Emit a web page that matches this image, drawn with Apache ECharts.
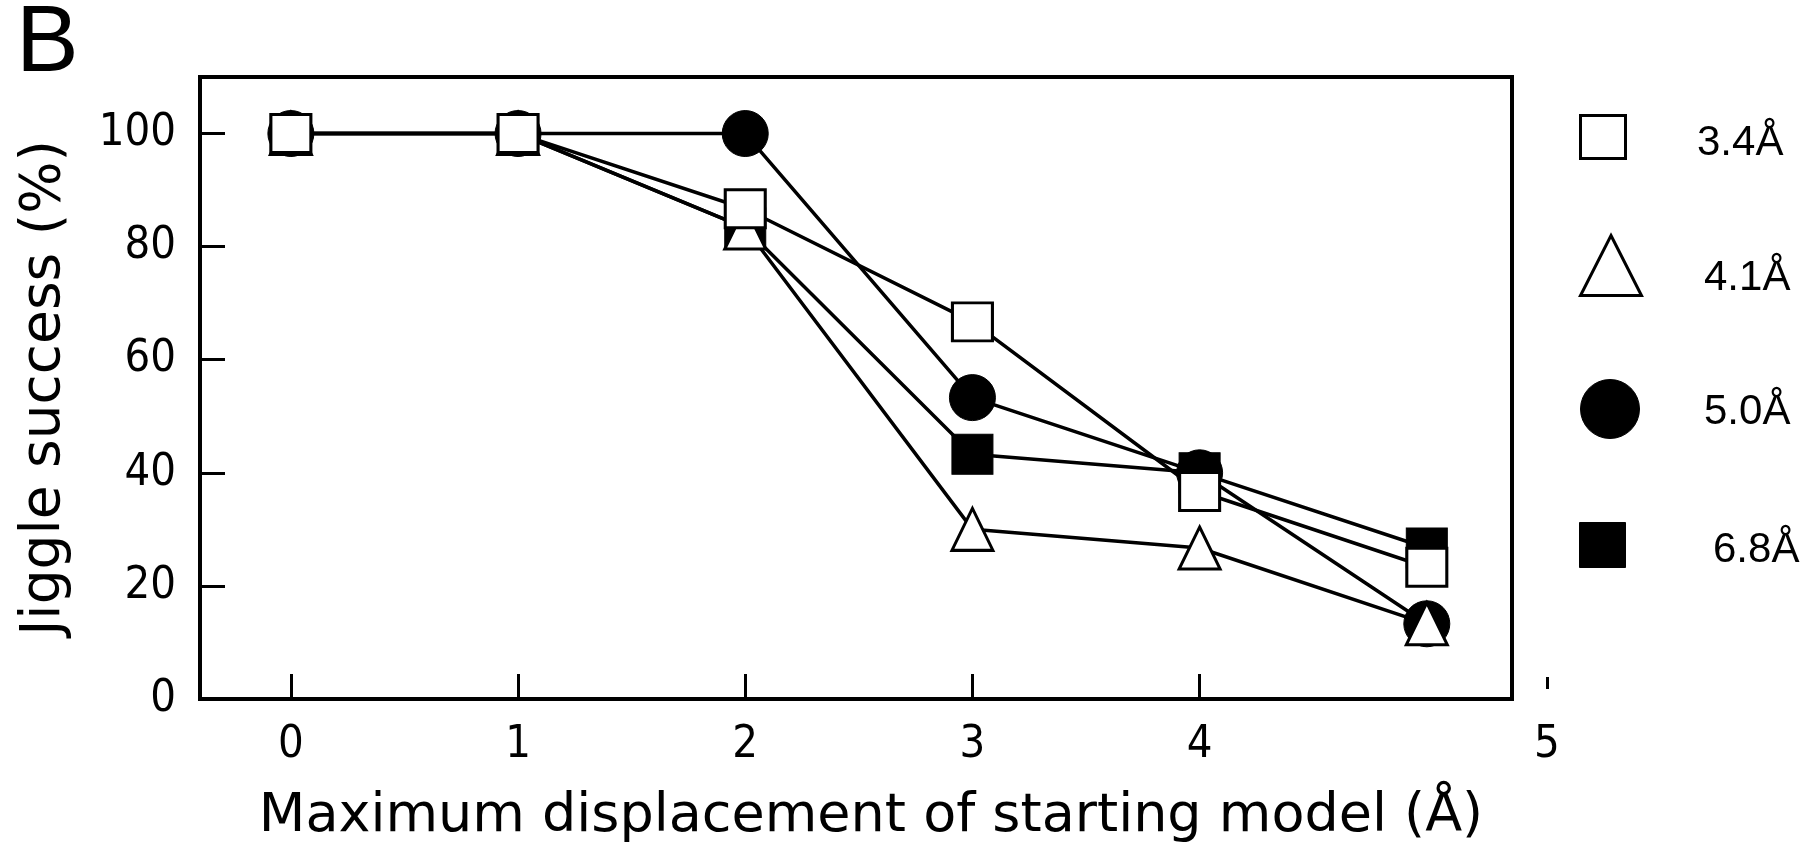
<!DOCTYPE html>
<html><head><meta charset="utf-8">
<script src="https://cdn.jsdelivr.net/npm/echarts@6/dist/echarts.min.js"></script>
<style>html,body{margin:0;padding:0;background:#fff}#c{width:1806px;height:842px}</style>
</head><body><div id="c"></div><script>
// ---- data ----
const xValues = [0, 1, 2, 3, 4, 5];
const xTickLabels = [0, 1, 2, 3, 4];
const extraXLabel = [5];
const yTickLabels = [0, 20, 40, 60, 80, 100];
const seriesNames = ['3.4Å', '4.1Å', '5.0Å', '6.8Å'];
const s34 = [100, 100, 86.7, 66.7, 36.7, 23.3];
const s41 = [100, 100, 83.3, 30.0, 26.7, 13.3];
const s50 = [100, 100, 100, 53.3, 40.0, 13.3];
const s68 = [100, 100, 83.3, 43.3, 40.0, 26.7];
const xTitle = 'Maximum displacement of starting model (Å)';
const yTitle = 'Jiggle success (%)';
const panelLabel = 'B';

const pairs = (ys) => xValues.map((x, i) => [x, ys[i]]);
const AX_FONT = 'DejaVu Sans Condensed';
const TITLE_FONT = 'DejaVu Sans';
const LEG_FONT = 'Liberation Sans';

function lineSeries(name, ys, symbol, size, fill) {
  return {
    name, type: 'line', data: pairs(ys), symbol, symbolSize: size,
    xAxisIndex: 0, yAxisIndex: 0,
    lineStyle: { color: '#000', width: 3.5 },
    itemStyle: { color: fill, borderColor: '#000', borderWidth: fill === '#000' ? 1 : 3, opacity: 1 },
    emphasis: { disabled: true }, z: 2
  };
}

// legend symbol only
function legendIcon(name, icon, w, h, left, top, fill) {
  return {
    data: [name], left, top, orient: 'vertical', padding: 0, icon,
    itemWidth: w, itemHeight: h, selectedMode: false,
    formatter: () => '',
    itemStyle: { color: fill, borderColor: '#000', borderWidth: fill === '#000' ? 1 : 3 },
    textStyle: { fontSize: 1 }
  };
}
// legend label only
function legendText(name, left, top) {
  return {
    data: [name], left, top, orient: 'vertical', padding: 0, icon: 'rect',
    itemWidth: 0, itemHeight: 0, selectedMode: false,
    itemStyle: { color: 'rgba(0,0,0,0)', borderWidth: 0 },
    textStyle: { fontFamily: LEG_FONT, fontSize: 42, color: '#000' }
  };
}

const chart = echarts.init(document.getElementById('c'), null, { renderer: 'canvas' });
chart.setOption({
  animation: false,
  backgroundColor: '#fff',
  title: { text: panelLabel, left: 16, top: -2, padding: 0,
    textStyle: { fontFamily: LEG_FONT, fontSize: 94, fontWeight: 'normal', color: '#000' } },
  legend: [
    legendIcon(seriesNames[0], 'rect', 45, 43, 1579, 114, '#fff'),
    legendIcon(seriesNames[1], 'triangle', 61, 60, 1579, 234, '#fff'),
    legendIcon(seriesNames[2], 'circle', 60, 59, 1580, 379, '#000'),
    legendIcon(seriesNames[3], 'rect', 46, 45, 1579, 522, '#000'),
    legendText(seriesNames[0], 1692, 122),
    legendText(seriesNames[1], 1699, 257),
    legendText(seriesNames[2], 1699, 391),
    legendText(seriesNames[3], 1708, 529)
  ],
  grid: [
    { left: 200, right: 294, top: 77, bottom: 143, show: true, borderColor: '#000', borderWidth: 4,
      containLabel: false, outerBoundsMode: 'none' },
    { left: 291, right: 259, top: 77, bottom: 143, show: false, containLabel: false, outerBoundsMode: 'none' }
  ],
  xAxis: [
    { gridIndex: 0, type: 'value', min: -0.4, max: 5.375,
      axisLine: { show: true, onZero: false, lineStyle: { color: '#000', width: 4 } },
      axisTick: { show: true, inside: true, length: 25, lineStyle: { color: '#000', width: 3 }, customValues: xTickLabels },
      axisLabel: { customValues: xTickLabels, margin: 24, fontFamily: AX_FONT, fontSize: 45, color: '#000' },
      splitLine: { show: false },
      name: xTitle, nameLocation: 'middle', nameGap: 91,
      nameTextStyle: { fontFamily: TITLE_FONT, fontSize: 54, color: '#000', padding: [0, 0, 0, 30] } },
    { gridIndex: 1, type: 'value', min: 0, max: 5, offset: -10,
      axisLine: { show: false, onZero: false },
      axisTick: { show: true, inside: true, length: 12, lineStyle: { color: '#000', width: 3 }, customValues: extraXLabel },
      axisLabel: { customValues: extraXLabel, showMaxLabel: true, margin: 34, fontFamily: AX_FONT, fontSize: 45, color: '#000' },
      splitLine: { show: false } }
  ],
  yAxis: [
    { gridIndex: 0, type: 'value', min: 0, max: 110,
      axisLine: { show: true, onZero: false, lineStyle: { color: '#000', width: 4 } },
      axisTick: { show: true, inside: true, length: 25, lineStyle: { color: '#000', width: 3 }, customValues: yTickLabels },
      axisLabel: { customValues: yTickLabels, margin: 24, fontFamily: AX_FONT, fontSize: 45, color: '#000' },
      splitLine: { show: false },
      name: yTitle, nameLocation: 'middle', nameGap: 128,
      nameTextStyle: { fontFamily: TITLE_FONT, fontSize: 55, color: '#000' } },
    { gridIndex: 1, type: 'value', min: 0, max: 110, show: false }
  ],
  series: [
    lineSeries(seriesNames[2], s50, 'circle', 46, '#000'),
    lineSeries(seriesNames[3], s68, 'rect', [41, 40], '#000'),
    lineSeries(seriesNames[1], s41, 'triangle', [41, 42], '#fff'),
    lineSeries(seriesNames[0], s34, 'rect', [40, 38], '#fff')
  ]
});
</script></body></html>
